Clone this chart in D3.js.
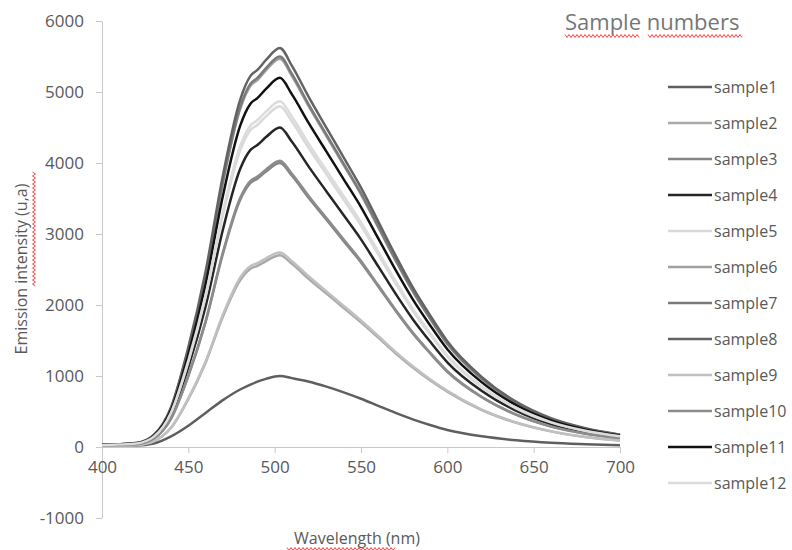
<!DOCTYPE html>
<html>
<head>
<meta charset="utf-8">
<script src="https://cdn.jsdelivr.net/npm/d3@7"></script>
<style>
  html, body { margin: 0; padding: 0; background: #fff; }
  svg { display: block; font-family: "Open Sans", "Noto Sans", sans-serif; }
</style>
</head>
<body>
<svg id="chart" width="792" height="550"></svg>
<script>
// ---- data ----
const wavelengths = [400,410,420,430,440,450,460,470,480,486,490,495,503,510,520,530,540,550,560,570,580,590,600,620,640,660,680,700];
const seriesNames = ["sample1","sample2","sample3","sample4","sample5","sample6","sample7","sample8","sample9","sample10","sample11","sample12"];
const sample1  = [20,20,22,50,150,300,480,660,810,880,920,960,1000,970,920,850,770,680,580,480,390,310,240,150,95,60,40,25];
const sample2  = [16,19,27,81,270,675,1188,1836,2349,2511,2552,2619,2700,2579,2363,2160,1958,1755,1540,1320,1120,940,780,520,340,220,140,90];
const sample3  = [24,28,40,120,400,1000,1760,2720,3480,3720,3780,3880,4000,3820,3500,3200,2900,2600,2260,1920,1600,1320,1060,700,452,288,188,124];
const sample4  = [27,32,45,135,450,1125,1980,3060,3915,4185,4253,4365,4500,4298,3938,3600,3263,2925,2543,2160,1800,1485,1193,788,509,324,212,140];
const sample5  = [29,34,48,144,480,1200,2112,3264,4176,4464,4536,4656,4800,4584,4200,3840,3480,3120,2712,2304,1920,1584,1272,840,542,346,226,149];
const sample6  = [33,38,55,164,547,1368,2407,3720,4759,5087,5169,5306,5470,5224,4786,4376,3966,3556,3091,2626,2188,1805,1450,957,618,394,257,170];
const sample7  = [33,39,55,165,550,1375,2420,3740,4785,5115,5198,5335,5500,5253,4813,4400,3988,3575,3108,2640,2200,1815,1458,963,622,396,259,171];
const sample8  = [34,39,56,169,562,1405,2473,3822,4889,5227,5311,5451,5620,5367,4918,4496,4075,3653,3175,2698,2248,1855,1489,984,635,405,264,174];
const sample9  = [17,19,28,82,274,685,1206,1863,2384,2548,2590,2658,2740,2617,2398,2192,1987,1781,1563,1340,1137,954,792,528,345,223,142,92];
const sample10 = [24,28,40,121,403,1008,1773,2740,3506,3748,3808,3909,4030,3849,3526,3224,2922,2620,2277,1934,1612,1330,1068,705,455,290,189,125];
const sample11 = [31,36,52,156,520,1300,2288,3536,4524,4836,4914,5044,5200,4966,4550,4160,3770,3380,2938,2496,2080,1716,1378,910,588,374,244,161];
const sample12 = [29,34,49,146,487,1218,2143,3312,4237,4529,4602,4724,4870,4651,4261,3896,3531,3166,2752,2338,1948,1607,1291,852,550,351,229,151];
const seriesColors = ["#5f5f5f","#a9a9a9","#858585","#262626","#d9d9d9","#a0a0a0","#7a7a7a","#636363","#c0c0c0","#8c8c8c","#111111","#dcdcdc"];
const xTicks = [400,450,500,550,600,650,700];
const yTicks = [-1000,0,1000,2000,3000,4000,5000,6000];
const titleText = "Sample numbers";
const xTitle = "Wavelength (nm)";
const yTitle = "Emission intensity (u,a)";

const allSeries = [sample1,sample2,sample3,sample4,sample5,sample6,sample7,sample8,sample9,sample10,sample11,sample12];

// ---- chart ----
const svg = d3.select("#chart");
const x = d3.scaleLinear().domain([400,700]).range([102,620]);
const y = d3.scaleLinear().domain([-1000,6000]).range([518,21]);
const axisColor = "#c8c8c8";
const textColor = "#595959";

// y axis
const yAxis = svg.append("g").attr("transform", `translate(${x(400)},0)`)
  .call(d3.axisLeft(y).tickValues(yTicks).tickFormat(d => String(d)).tickSize(6).tickSizeOuter(0).tickPadding(12));
yAxis.select(".domain").attr("stroke", axisColor);
yAxis.selectAll(".tick line").attr("stroke", axisColor);
yAxis.selectAll(".tick text").attr("fill", textColor).style("font-size", "17px").style("font-family", "Open Sans");

// x axis at y=0
const xAxis = svg.append("g").attr("transform", `translate(0,${y(0)})`)
  .call(d3.axisBottom(x).tickValues(xTicks).tickFormat(d => String(d)).tickSize(6).tickSizeOuter(0).tickPadding(8));
xAxis.select(".domain").attr("stroke", axisColor);
xAxis.selectAll(".tick line").attr("stroke", axisColor);
xAxis.selectAll(".tick text").attr("fill", textColor).style("font-size", "17px").style("font-family", "Open Sans");

// lines
const line = d3.line().x((d,i) => x(wavelengths[i])).y(d => y(d)).curve(d3.curveMonotoneX);
svg.append("g").selectAll("path").data(allSeries).join("path")
  .attr("d", d => line(d))
  .attr("fill", "none")
  .attr("stroke", (d,i) => seriesColors[i])
  .attr("stroke-width", 2.5)
  .attr("stroke-linejoin", "round");

// legend
const legend = svg.append("g");
seriesNames.forEach((name, i) => {
  const ly = 87 + i * 36;
  legend.append("line").attr("x1", 668).attr("x2", 712).attr("y1", ly).attr("y2", ly)
    .attr("stroke", seriesColors[i]).attr("stroke-width", 2.5);
  legend.append("text").attr("x", 714).attr("y", ly).attr("dy", "0.35em")
    .attr("fill", textColor).style("font-size", "16px").text(name);
});

// titles
svg.append("text").attr("x", 565).attr("y", 30).attr("fill", "#767676")
  .style("font-size", "22px").text(titleText);
svg.append("text").attr("x", 357).attr("y", 544).attr("text-anchor", "middle")
  .attr("fill", textColor).style("font-size", "16px").text(xTitle);
svg.append("text").attr("transform", "translate(27,269) rotate(-90)").attr("text-anchor", "middle")
  .attr("fill", textColor).style("font-size", "16px").text(yTitle);

// spell-check squiggles
function squiggle(x0, x1, yy, vertical) {
  const pts = [];
  let k = 0;
  for (let p = x0; p <= x1; p += 2, k++) pts.push(vertical ? [yy + (k % 2 ? 1.5 : -1.5), p] : [p, yy + (k % 2 ? 1.5 : -1.5)]);
  svg.append("path").attr("d", d3.line()(pts)).attr("fill", "none").attr("stroke", "#ff4040").attr("stroke-width", 1);
}
squiggle(565, 640, 36, false);
squiggle(648, 742, 36, false);
squiggle(287, 395, 549, false);
squiggle(172, 287, 34, true);
</script>
</body>
</html>
